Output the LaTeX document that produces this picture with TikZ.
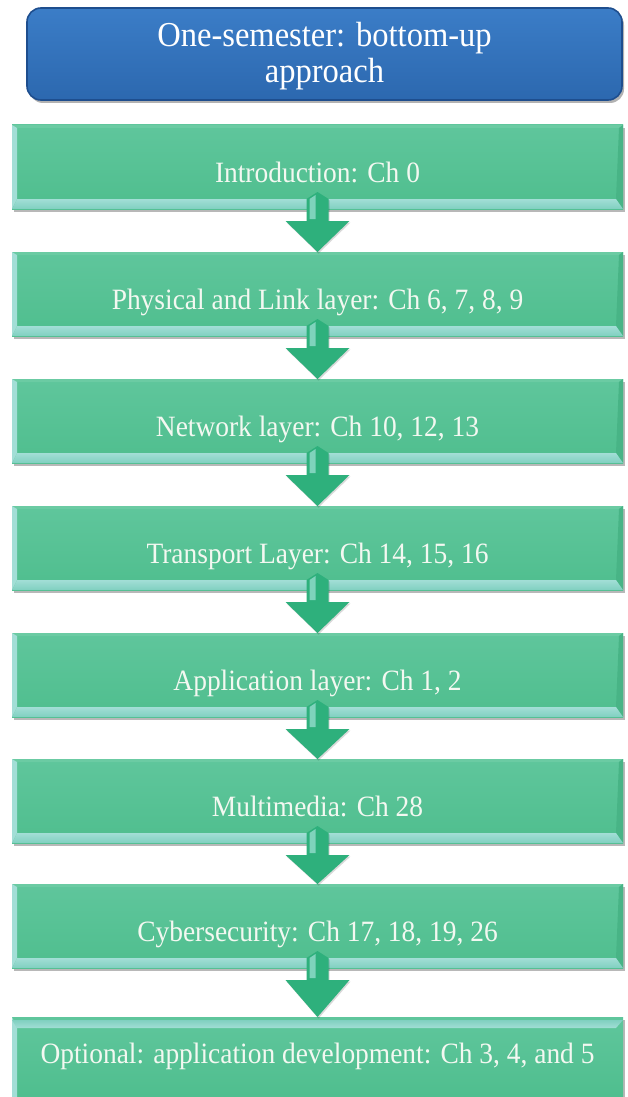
\documentclass[tikz,border=0pt]{standalone}
\usepackage{fontspec}
\setmainfont[FakeStretch=0.93]{Liberation Serif}
\usetikzlibrary{calc,shadows}

\definecolor{boxgreen}{HTML}{4FBE8E}
\definecolor{boxgreentop}{HTML}{5FC69C}
\definecolor{bevellight}{HTML}{A2DED6}
\definecolor{bevelbottom}{HTML}{80D0C0}
\definecolor{beveltop}{HTML}{6BCBA3}
\definecolor{bevelright}{HTML}{48B486}
\definecolor{arrowgreen}{HTML}{2EB07C}
\definecolor{arrowlight}{HTML}{7FD3BC}
\definecolor{titleblue}{HTML}{2C68AF}
\definecolor{titlebluetop}{HTML}{3B7DC7}
\definecolor{titleedge}{HTML}{1E4E8E}
\definecolor{labelwhite}{HTML}{F3F8F1}

\begin{document}
\begin{tikzpicture}[x=1pt,y=-1pt,
  layerbase/.style={minimum width=611pt, inner sep=0pt, outer sep=0pt,
    top color=boxgreentop, bottom color=boxgreen, draw=none,
    drop shadow={shadow xshift=2pt, shadow yshift=-3pt, fill=black, opacity=0.28},
    font=\fontsize{29.5}{32}\selectfont, text=labelwhite},
  % bevelled step box: light left edge and a light band along the bottom
  layer/.style={layerbase, minimum height=84pt, text height=33pt, text depth=3pt,
    path picture={
      \fill[beveltop] (path picture bounding box.north west) -- (path picture bounding box.north east)
        -- ([shift={(-4pt,-3pt)}]path picture bounding box.north east)
        -- ([shift={(5pt,-3pt)}]path picture bounding box.north west) -- cycle;
      \fill[bevelright] (path picture bounding box.north east) -- (path picture bounding box.south east)
        -- ([shift={(-7pt,10pt)}]path picture bounding box.south east)
        -- ([shift={(-4pt,-3pt)}]path picture bounding box.north east) -- cycle;
      \fill[bevellight] (path picture bounding box.north west) -- (path picture bounding box.south west)
        -- ([shift={(5pt,10pt)}]path picture bounding box.south west)
        -- ([shift={(5pt,-3pt)}]path picture bounding box.north west) -- cycle;
      \shade[top color=bevellight, bottom color=bevelbottom]
        (path picture bounding box.south west) -- (path picture bounding box.south east)
        -- ([shift={(-7pt,10pt)}]path picture bounding box.south east)
        -- ([shift={(5pt,10pt)}]path picture bounding box.south west) -- cycle;
    }},
  % last step: light band along the top, runs off the lower edge
  lastlayer/.style={layerbase, minimum height=82pt, text height=20pt, text depth=10pt,
    path picture={
      \fill[bevellight] (path picture bounding box.north west) -- (path picture bounding box.south west)
        -- ([shift={(5pt,0pt)}]path picture bounding box.south west)
        -- ([shift={(5pt,-11pt)}]path picture bounding box.north west) -- cycle;
      \shade[top color=bevelbottom, bottom color=bevellight]
        ([shift={(0pt,-3pt)}]path picture bounding box.north west)
        -- ([shift={(0pt,-3pt)}]path picture bounding box.north east)
        -- ([shift={(-7pt,-11pt)}]path picture bounding box.north east)
        -- ([shift={(5pt,-11pt)}]path picture bounding box.north west) -- cycle;
    }},
  titlebox/.style={minimum width=595pt, minimum height=92pt, inner sep=0pt,
    rounded corners=14pt, top color=titlebluetop, bottom color=titleblue,
    draw=titleedge, line width=1.6pt,
    drop shadow={shadow xshift=2pt, shadow yshift=-3pt, fill=black, opacity=0.3},
    align=center, text=white, font=\fontsize{35}{36}\selectfont,
    text height=60pt, text depth=2pt},
  downarrow/.style={fill=arrowgreen,
    drop shadow={shadow xshift=1pt, shadow yshift=-1.5pt, fill=black, opacity=0.15}},
]
\useasboundingbox (0,0) rectangle (628,1097);
\fill[white] (0,0) rectangle (628,1097);

\node[titlebox] (title) at (324.5,54) {One-semester: bottom-up\\approach};

\node[layer] (s1) at (317.5,167) {Introduction: Ch 0};
\node[layer] (s2) at (317.5,294) {Physical and Link layer: Ch 6, 7, 8, 9};
\node[layer] (s3) at (317.5,421) {Network layer: Ch 10, 12, 13};
\node[layer] (s4) at (317.5,548) {Transport Layer: Ch 14, 15, 16};
\node[layer] (s5) at (317.5,675) {Application layer: Ch 1, 2};
\node[layer] (s6) at (317.5,801) {Multimedia: Ch 28};
\node[layer] (s7) at (317.5,926) {Cybersecurity: Ch 17, 18, 19, 26};
\node[lastlayer] (s8) at (317.5,1058) {Optional: application development: Ch 3, 4, and 5};

% block arrows joining consecutive steps
\foreach \a/\b in {s1/s2,s2/s3,s3/s4,s4/s5,s5/s6,s6/s7,s7/s8}{
  \path[downarrow]
    ([shift={(-11pt,10pt)}]\a.south) -- ([shift={(0pt,17pt)}]\a.south)
    -- ([shift={(11pt,10pt)}]\a.south) -- ([shift={(11pt,-12pt)}]\a.south)
    -- ([shift={(32pt,-12pt)}]\a.south) -- (\b.north)
    -- ([shift={(-32pt,-12pt)}]\a.south) -- ([shift={(-11pt,-12pt)}]\a.south) -- cycle;
  \fill[arrowlight]
    ([shift={(-8pt,10pt)}]\a.south) -- ([shift={(-2pt,14pt)}]\a.south)
    -- ([shift={(-2pt,-10pt)}]\a.south) -- ([shift={(-8pt,-10pt)}]\a.south) -- cycle;
}
\end{tikzpicture}
\end{document}
